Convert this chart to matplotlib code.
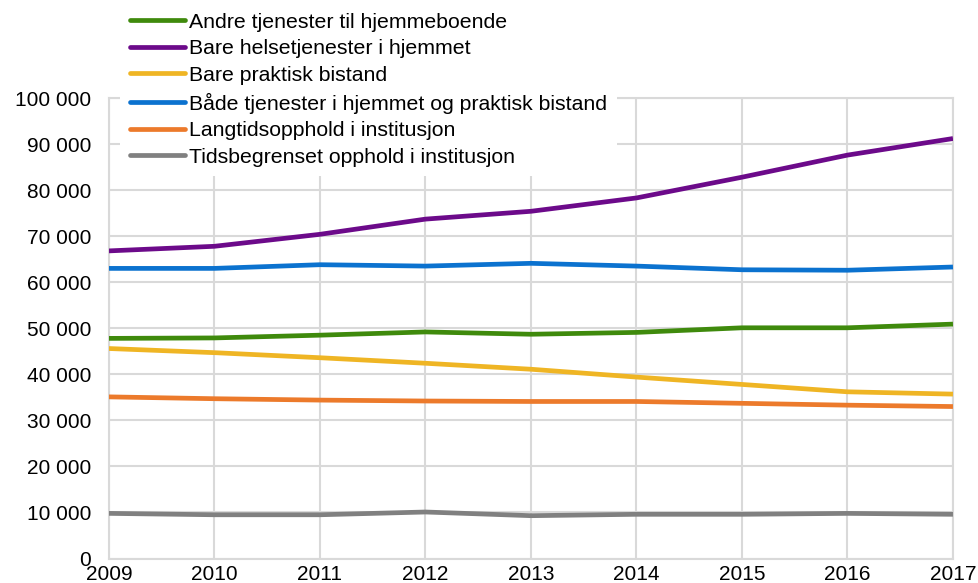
import matplotlib
matplotlib.use("Agg")
import matplotlib.pyplot as plt
from matplotlib.ticker import FuncFormatter, MultipleLocator

plt.rcParams["font.family"] = ["Liberation Sans", "DejaVu Sans"]

years = [2009, 2010, 2011, 2012, 2013, 2014, 2015, 2016, 2017]

andre = [47800, 47900, 48500, 49200, 48700, 49100, 50100, 50100, 50900]
helse = [66800, 67800, 70400, 73700, 75400, 78300, 82800, 87600, 91200]
praktisk = [45600, 44700, 43600, 42400, 41100, 39400, 37800, 36200, 35700]
begge = [63000, 63000, 63800, 63500, 64100, 63500, 62700, 62600, 63300]
langtid = [35100, 34700, 34400, 34200, 34100, 34100, 33700, 33300, 33000]
tidsbeg = [9800, 9500, 9500, 10100, 9300, 9600, 9600, 9800, 9600]

series = [
    ("Andre tjenester til hjemmeboende", andre, "#3f8a0c"),
    ("Bare helsetjenester i hjemmet", helse, "#6c0a8a"),
    ("Bare praktisk bistand", praktisk, "#efb524"),
    ("Både tjenester i hjemmet og praktisk bistand", begge, "#0b72cf"),
    ("Langtidsopphold i institusjon", langtid, "#ec7a2b"),
    ("Tidsbegrenset opphold i institusjon", tidsbeg, "#808080"),
]

fig = plt.figure(figsize=(9.79, 5.83), dpi=100)
ax = fig.add_axes([0.1113, 0.0420, 0.8621, 0.7899])

for label, vals, color in series:
    ax.plot(years, vals, color=color, lw=3.4, label=label,
            solid_capstyle="butt", zorder=3)

grid_c = "#d9d9d9"
ax.set_xlim(2009, 2017)
ax.set_ylim(0, 100000)
ax.xaxis.set_major_locator(MultipleLocator(1))
ax.yaxis.set_major_locator(MultipleLocator(10000))
ax.yaxis.set_major_formatter(
    FuncFormatter(lambda v, p: f"{int(v):,}".replace(",", " ")))
ax.grid(True, color=grid_c, lw=1.5, zorder=0)
for s in ax.spines.values():
    s.set_color(grid_c)
    s.set_linewidth(1.5)
ax.tick_params(length=0, labelsize=15, colors="black")
ax.tick_params(axis="y", pad=13)
ax.tick_params(axis="x", pad=5)

handles, labels = ax.get_legend_handles_labels()
leg = fig.legend(handles, labels, loc="upper left",
                 bbox_to_anchor=(120 / 979, 1 - 3 / 583),
                 fontsize=15.3, frameon=True, fancybox=False,
                 facecolor="white", edgecolor="none", framealpha=1,
                 borderpad=0.45, borderaxespad=0, handlelength=2.6,
                 handletextpad=0.2, labelspacing=0.36)
for ln in leg.get_lines():
    ln.set_solid_capstyle("round")

fig.savefig("out.png", dpi=100)
